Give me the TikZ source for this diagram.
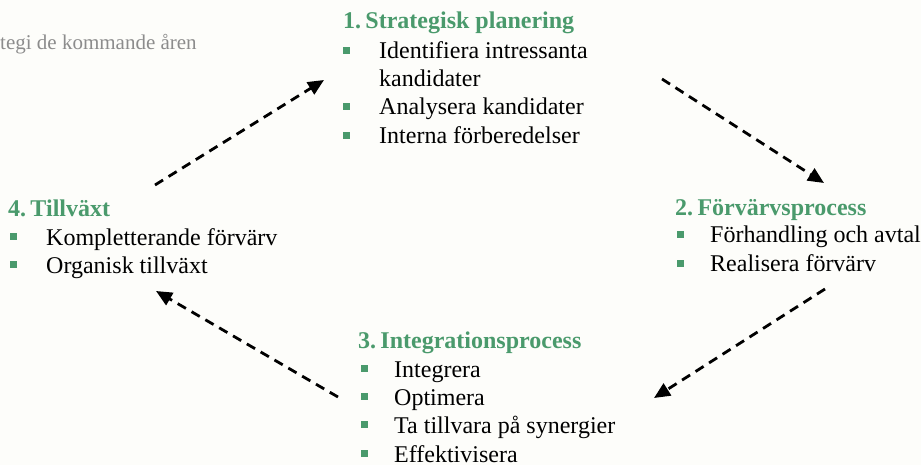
\documentclass[tikz,border=0pt]{standalone}
\usepackage{fontspec}
\setmainfont{Liberation Serif}
\usetikzlibrary{arrows.meta}
\definecolor{bg}{RGB}{253,253,250}
\definecolor{hgreen}{RGB}{74,154,108}
\definecolor{sgray}{RGB}{140,140,140}
\tikzset{
  txt/.style={anchor=base west,inner sep=0pt,font=\fontsize{24}{28.5}\selectfont,text=black},
  head/.style={txt,font=\fontsize{24}{28.5}\selectfont\bfseries,text=hgreen},
  bul/.style={fill=hgreen,inner sep=0pt,minimum size=7pt,draw=none},
  flow/.style={line width=2.8pt,dash pattern=on 9.5pt off 6.5pt,-{Triangle[length=16pt,width=14pt]}},
}
\begin{document}
\begin{tikzpicture}[x=1pt,y=-1pt]
\fill[bg] (0,0) rectangle (921,465);
\useasboundingbox (0,0) rectangle (921,465);
% gray subtitle fragment
\node[anchor=base west,inner sep=0pt,font=\fontsize{21}{25}\selectfont,text=sgray] (sub) at (0,50) {tegi de kommande åren};
% group 1
\node[head] (h1) at (343,29) {1.\hspace{0.18em}Strategisk planering};
\node[bul] (b11) at (346,50.5) {};
\node[txt] (t11) at (379,59) {Identifiera intressanta};
\node[txt] (t11b) at (379,87) {kandidater};
\node[bul] (b12) at (346,106.5) {};
\node[txt] (t12) at (379,115) {Analysera kandidater};
\node[bul] (b13) at (346,135.5) {};
\node[txt] (t13) at (379,144) {Interna förberedelser};
% group 2
\node[head] (h2) at (675,215) {2.\hspace{0.18em}Förvärvsprocess};
\node[bul] (b21) at (680,234.5) {};
\node[txt] (t21) at (710,243) {Förhandling och avtal};
\node[bul] (b22) at (680,263.5) {};
\node[txt] (t22) at (710,272) {Realisera förvärv};
% group 3
\node[head] (h3) at (358,348) {3.\hspace{0.18em}Integrationsprocess};
\node[bul] (b31) at (364,368.5) {};
\node[txt] (t31) at (394,377) {Integrera};
\node[bul] (b32) at (364,396.5) {};
\node[txt] (t32) at (394,405) {Optimera};
\node[bul] (b33) at (364,424.5) {};
\node[txt] (t33) at (394,433) {Ta tillvara på synergier};
\node[bul] (b34) at (364,453.5) {};
\node[txt] (t34) at (394,462) {Effektivisera};
% group 4
\node[head] (h4) at (8,217) {4.\hspace{0.18em}Tillväxt};
\node[bul] (b41) at (13,236.5) {};
\node[txt] (t41) at (46,245) {Kompletterande förvärv};
\node[bul] (b42) at (13,264.5) {};
\node[txt] (t42) at (46,273) {Organisk tillväxt};
% arrow end points
\coordinate (a1s) at (155,185);
\coordinate (a1e) at (324,80);
\coordinate (a2s) at (662,79);
\coordinate (a2e) at (824,183);
\coordinate (a3s) at (825,289);
\coordinate (a3e) at (654,398);
\coordinate (a4s) at (338,397);
\coordinate (a4e) at (156,291);
\draw[flow] (a1s) -- (a1e);
\draw[flow] (a2s) -- (a2e);
\draw[flow] (a3s) -- (a3e);
\draw[flow] (a4s) -- (a4e);
\end{tikzpicture}
\end{document}
